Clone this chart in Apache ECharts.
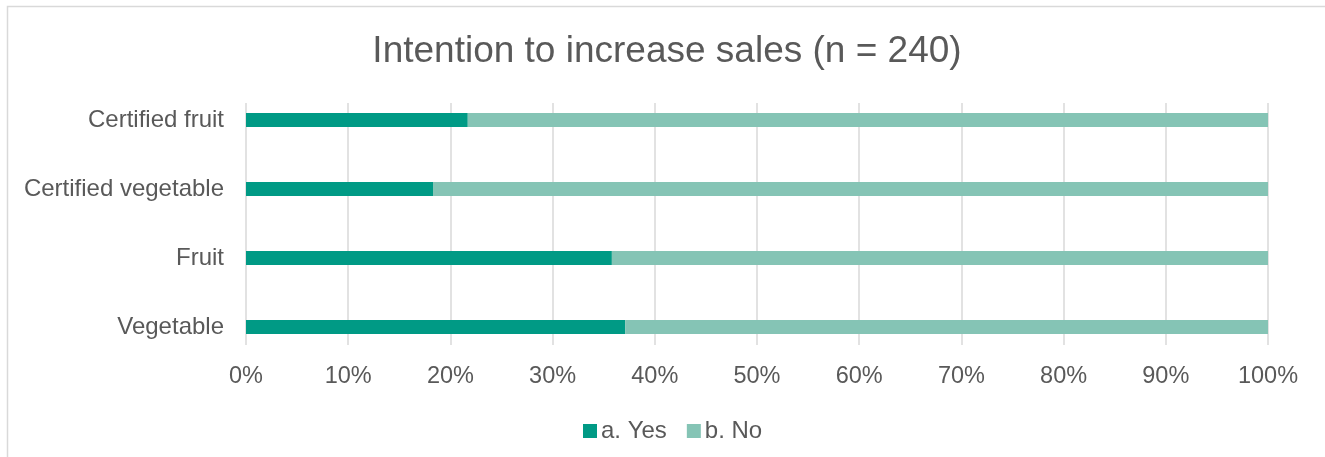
<!DOCTYPE html>
<html>
<head>
<meta charset="utf-8">
<script src="https://cdn.jsdelivr.net/npm/echarts@6/dist/echarts.min.js"></script>
<style>
html,body{margin:0;padding:0;background:#fff;}
#chart{width:1325px;height:457px;}
</style>
</head>
<body>
<div id="chart"></div>
<script>
const titleText = 'Intention to increase sales (n = 240)';
const categories = ['Certified fruit', 'Certified vegetable', 'Fruit', 'Vegetable'];
const yesValues = [21.7, 18.3, 35.8, 37.1];
const noValues = [78.3, 81.7, 64.2, 62.9];
const seriesNames = ['a. Yes', 'b. No'];
const colors = ['#009A85', '#85C4B5'];
const textColor = '#595959';
const font = 'Liberation Sans, Arial, sans-serif';

const chart = echarts.init(document.getElementById('chart'), null, {renderer: 'canvas'});
chart.setOption({
  animation: false,
  backgroundColor: '#ffffff',
  title: {
    text: titleText,
    left: 662,
    textAlign: 'center',
    top: 28,
    textStyle: {color: textColor, fontSize: 37, fontWeight: 'normal', fontFamily: font}
  },
  legend: {
    data: seriesNames,
    top: 414,
    left: 578,
    itemWidth: 14,
    itemHeight: 14,
    itemGap: 20,
    icon: 'rect',
    textStyle: {color: textColor, fontSize: 24, fontFamily: font, padding: [0, 0, 0, -1]}
  },
  graphic: [{
    type: 'rect',
    shape: {x: 7.5, y: 6.5, width: 1400, height: 500},
    style: {fill: 'none', stroke: '#d9d9d9', lineWidth: 1.5},
    silent: true
  }],
  grid: [
    {left: 246, right: 57, top: 85.5, height: 276, containLabel: false},
    {left: 246, right: 57, top: 103, height: 242, containLabel: false}
  ],
  xAxis: [
    {gridIndex: 0, type: 'value', min: 0, max: 100, show: false},
    {
      gridIndex: 1, type: 'value', min: 0, max: 100, interval: 10,
      axisLine: {show: false}, axisTick: {show: false},
      splitLine: {show: true, lineStyle: {color: '#d9d9d9', width: 1.5}},
      axisLabel: {formatter: '{value}%', color: textColor, fontSize: 23.5, fontFamily: font, margin: 20}
    }
  ],
  yAxis: [
    {
      gridIndex: 0, type: 'category', data: categories, inverse: true,
      axisLine: {show: false}, axisTick: {show: false},
      axisLabel: {color: textColor, fontSize: 24, fontFamily: font, margin: 22}
    },
    {gridIndex: 1, type: 'value', min: 0, max: 1, show: false}
  ],
  series: [
    {
      name: seriesNames[0], type: 'bar', stack: 'total', xAxisIndex: 0, yAxisIndex: 0,
      data: yesValues, barWidth: 14, itemStyle: {color: colors[0]}
    },
    {
      name: seriesNames[1], type: 'bar', stack: 'total', xAxisIndex: 0, yAxisIndex: 0,
      data: noValues, barWidth: 14, itemStyle: {color: colors[1]}
    }
  ]
});
</script>
</body>
</html>
